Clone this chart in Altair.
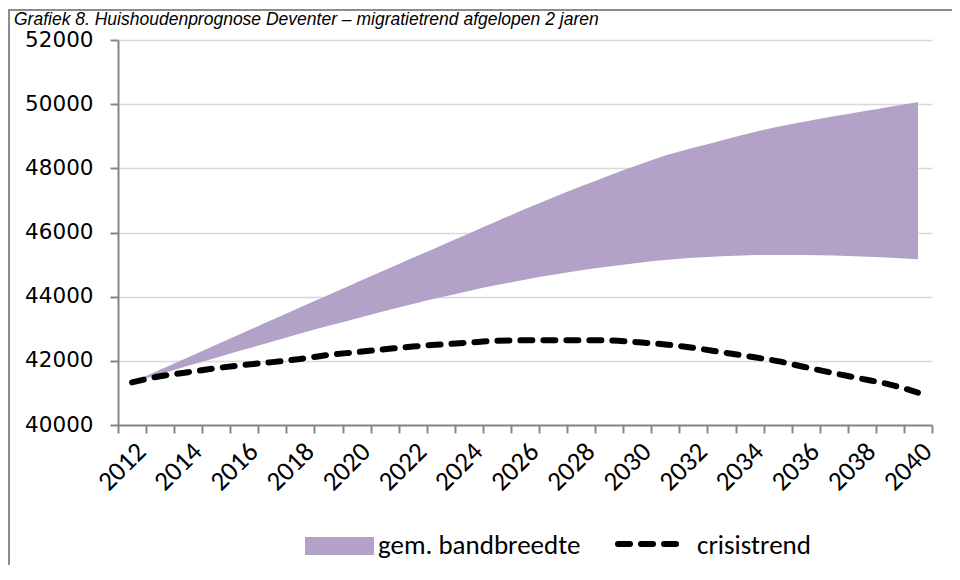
import altair as alt
import pandas as pd

years = [str(y) for y in range(2012, 2041)]
band_low = [41330, 41590, 41850, 42100, 42350, 42600, 42850, 43090, 43320, 43550,
            43770, 43980, 44180, 44360, 44530, 44680, 44820, 44940, 45050, 45140,
            45210, 45260, 45290, 45300, 45300, 45280, 45250, 45210, 45170]
band_high = [41330, 41720, 42110, 42500, 42890, 43280, 43670, 44050, 44440, 44820,
             45210, 45590, 45970, 46350, 46730, 47090, 47440, 47780, 48100, 48400,
             48640, 48870, 49090, 49300, 49460, 49620, 49770, 49920, 50070]
crisis = [41330, 41520, 41645, 41770, 41875, 41960, 42060, 42185, 42270, 42360,
          42445, 42510, 42570, 42625, 42640, 42645, 42645, 42635, 42580, 42510,
          42405, 42270, 42135, 41990, 41800, 41615, 41440, 41260, 41010]
y_ticks = [40000, 42000, 44000, 46000, 48000, 50000, 52000]
legend_labels = ["gem. bandbreedte", "crisistrend"]
title_text = "Grafiek 8. Huishoudenprognose Deventer \u2013 migratietrend afgelopen 2 jaren"

PURPLE = "#b2a2c7"
AXIS_GRAY = "#868686"
NARROW = "Carlito, 'Liberation Sans Narrow', 'Arial Narrow', Lato, sans-serif"

df = pd.DataFrame({"jaar": years, "laag": band_low, "hoog": band_high, "crisis": crisis})

xscale = alt.Scale(type="band", paddingInner=0, paddingOuter=0)
yscale = alt.Scale(domain=[40000, 52000], nice=False, zero=False)

x_axis = alt.Axis(
    title=None, labelAngle=-45, labelAlign="right", labelBaseline="top",
    labelFont=NARROW, labelFontSize=27, labelColor="black", labelPadding=5,
    tickBand="extent", tickSize=8, tickColor=AXIS_GRAY, tickWidth=2,
    domainColor=AXIS_GRAY, domainWidth=2, grid=False, labelOverlap=False,
    labelExpr="toNumber(datum.value) % 2 == 0 ? datum.label : ''",
)
y_axis = alt.Axis(
    title=None, values=y_ticks, format="d", labelFont="DejaVu Sans",
    labelFontSize=21.5, labelColor="black", labelPadding=17,
    tickSize=8, tickColor=AXIS_GRAY, tickWidth=2,
    domainColor=AXIS_GRAY, domainWidth=2,
    grid=True, gridColor="#d9d9d9", gridWidth=1.5,
)

x_enc = alt.X("jaar:O", scale=xscale, bandPosition=0.5, axis=x_axis)

base = alt.Chart(df)
area = base.mark_area(color=PURPLE, interpolate="monotone").encode(
    x=x_enc,
    y=alt.Y("laag:Q", scale=yscale, axis=y_axis),
    y2="hoog:Q",
)
line = base.mark_line(
    color="black", strokeWidth=6, strokeDash=[12, 11], strokeCap="round",
    interpolate="monotone",
).encode(
    x=x_enc,
    y=alt.Y("crisis:Q", scale=yscale, axis=y_axis),
)

# outer frame
frame = alt.Chart(pd.DataFrame({"a": [0]})).mark_rect(
    filled=False, stroke="#8c8c8c", strokeWidth=2
).encode(x=alt.value(-109), x2=alt.value(1000), y=alt.value(-30), y2=alt.value(700))

# chart title
title = alt.Chart(pd.DataFrame({"t": [title_text]})).mark_text(
    align="left", baseline="alphabetic", font="'Liberation Sans', Arial, sans-serif",
    fontStyle="italic", fontSize=17.5, color="black",
).encode(text="t:N", x=alt.value(-104), y=alt.value(-15.5))

# legend
leg_rect = alt.Chart(pd.DataFrame({"a": [0]})).mark_rect(color=PURPLE).encode(
    x=alt.value(187), x2=alt.value(256), y=alt.value(497), y2=alt.value(515)
)
leg_dash = alt.Chart(pd.DataFrame({"a": [0]})).mark_rule(
    color="black", strokeWidth=6, strokeDash=[12, 11], strokeCap="round"
).encode(x=alt.value(500), x2=alt.value(562), y=alt.value(504))
leg_text = alt.Chart(pd.DataFrame({"label": legend_labels, "px": [260, 579]})).mark_text(
    align="left", baseline="middle", font=NARROW, fontSize=27, color="black"
).encode(text="label:N", x=alt.X("px:Q", scale=None), y=alt.value(506))

chart = alt.layer(area, line, frame, leg_rect, leg_dash, leg_text, title).properties(
    width=814, height=385,
    autosize=alt.AutoSizeParams(type="none"),
    padding={"left": 110, "top": 32, "right": 20, "bottom": 140},
    background="white",
).configure_view(stroke=None)

chart.save("out.html", embed_options={"renderer": "svg", "actions": False})
